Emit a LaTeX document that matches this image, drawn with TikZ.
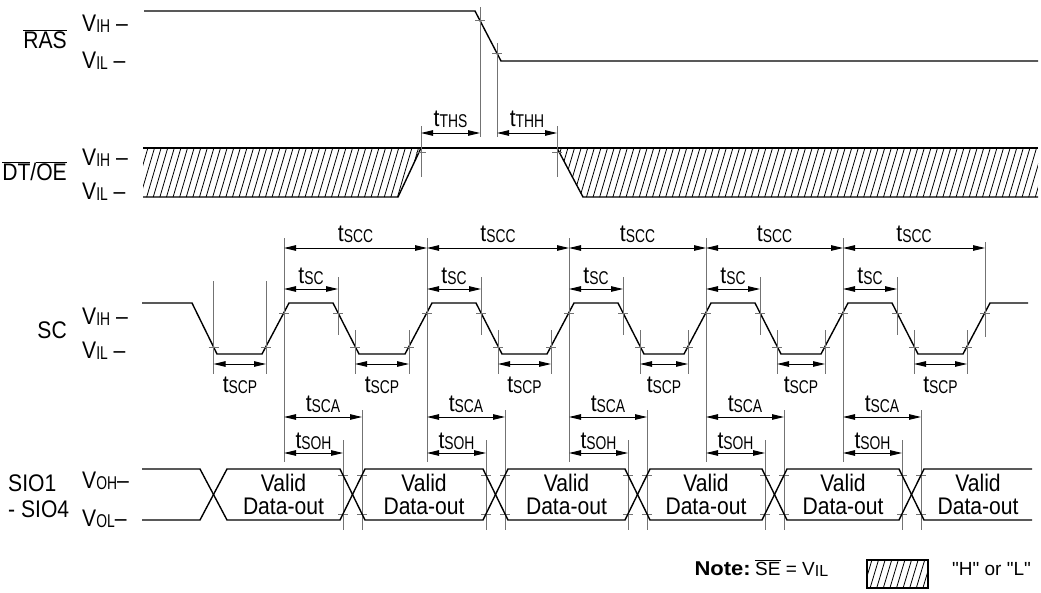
\documentclass[tikz,border=0pt]{standalone}
\usepackage{fontspec}
\setmainfont{Liberation Sans}
\newfontfamily\lab{Liberation Sans}[FakeStretch=0.88]
\newfontfamily\subfam{Liberation Sans}[FakeStretch=0.75]
\newfontfamily\notefont{Liberation Sans}[FakeStretch=1.1]
\newfontfamily\qfont{Liberation Sans}[Ligatures=TeXOff]
\usetikzlibrary{arrows.meta}
\newcommand\sbs[1]{\raisebox{-1.3pt}{\subfam\fontsize{18.5}{18.5}\selectfont #1}}
\newcommand\nsbs[1]{\raisebox{-1.5pt}{\fontsize{16}{16}\selectfont #1}}
\newcommand\ovl[1]{$\overline{\hbox{#1}}$}
\newcommand\tsub[1]{t\sbs{#1}}
\begin{document}
\begin{tikzpicture}[x=1pt,y=-1pt,
  wave/.style={line width=1.4pt, black, line join=miter},
  guide/.style={line width=1pt, black!55},
  dim/.style={line width=1pt, black, {Triangle[length=12pt,width=5.5pt]}-{Triangle[length=12pt,width=5.5pt]}},
  lbl/.style={font=\lab\fontsize{24}{26}\selectfont, inner sep=0pt, anchor=base},
  tick/.style={line width=1pt, black!55},
  hatchline/.style={line width=0.8pt, black}]
\useasboundingbox (0,0) rectangle (1041,592);
\newcommand\tk[2]{\draw[tick] ({#1-5},#2)--({#1+5},#2);}

% ---------------- RAS ----------------
\node[lbl, anchor=base east] (ras) at (67,48) {\ovl{RAS}};
\node[lbl, anchor=base west] (rasvih) at (82,31) {V\sbs{IH} –};
\node[lbl, anchor=base west] (rasvil) at (82,68) {V\sbs{IL} –};
\draw[wave] (144,11) -- (475,11) -- (501,61) -- (1038,61);
\draw[guide] (480,7) -- (480,137);
\draw[guide] (497,43) -- (497,137);
\tk{480}{20} \tk{497}{53}

% ---------------- DT/OE ----------------
\node[lbl, anchor=base east] (dtoe) at (67,180) {\ovl{DT}/\ovl{OE}};
\node[lbl, anchor=base west] (dtvih) at (82,165) {V\sbs{IH} –};
\node[lbl, anchor=base west] (dtvil) at (82,199) {V\sbs{IL} –};
\begin{scope}
  \clip (143,148) -- (421,148) -- (398,197) -- (143,197) -- cycle;
  \foreach \i in {120,126.6,...,440} \draw[hatchline] (\i,198) -- ({\i+15},147);
\end{scope}
\begin{scope}
  \clip (557,148) -- (1038,148) -- (1038,197) -- (583,197) -- cycle;
  \foreach \i in {540,546.6,...,1045} \draw[hatchline] (\i,198) -- ({\i+15},147);
\end{scope}
\draw[wave] (143,148) -- (1038,148);
\draw[wave] (143,197) -- (398,197) -- (421,148);
\draw[wave] (557,148) -- (583,197) -- (1038,197);
\draw[guide] (421,126) -- (421,177);
\draw[guide] (557,126) -- (557,177);
\tk{421}{152} \tk{557}{152}
\draw[dim] (421,133) -- (480,133);
\draw[dim] (497,133) -- (557,133);
\node[lbl] (tths) at (450.5,126) {\tsub{THS}};
\node[lbl] (tthh) at (527,126) {\tsub{THH}};

% ---------------- SC ----------------
\node[lbl, anchor=base east] (sc) at (67,338) {SC};
\node[lbl, anchor=base west] (scvih) at (82,324) {V\sbs{IH} –};
\node[lbl, anchor=base west] (scvil) at (82,358.5) {V\sbs{IL} –};
\draw[wave] (142,303)--(192,303)--(217,354)--(262,354)--(289,303)--(333,303)--(359,354)--(405,354)--(432,303)--(476,303)--(502,354)--(547,354)--(574,303)--(618,303)--(644,354)--(684,354)--(711,303)--(755,303)--(781,354)--(821,354)--(848,303)--(892,303)--(918,354)--(963,354)--(990,303)--(1028,303);
% first tSCP
\draw[guide] (213.5,281) -- (213.5,374);
\draw[guide] (266,281) -- (266,374);
\tk{213.5}{347} \tk{266}{347}
\draw[dim] (213.5,364) -- (266,364);
\node[lbl] (tscp0) at (240,392) {\tsub{SCP}};
% last rising edge
\draw[guide] (985,242) -- (985,337);
\tk{985}{313}
% periods
\foreach \a/\b [count=\k] in {284/427,427/569,569/706,706/843,843/985} {
  \draw[guide] (\a,238) -- (\a,462);
  \draw[guide] ({\a+54},277) -- ({\a+54},335);
  \draw[guide] ({\a+71},330) -- ({\a+71},374);
  \draw[guide] ({\b-18},330) -- ({\b-18},374);
  \tk{\a}{313}
  \tk{\a+54}{313}
  \tk{\a+71}{347}
  \tk{\b-18}{347}
  \draw[dim] (\a,248) -- (\b,248);
  \node[lbl] (tscc\k) at ({(\a+\b)/2},241.5) {\tsub{SCC}};
  \draw[dim] (\a,289) -- ({\a+54},289);
  \node[lbl] (tsc\k) at ({\a+27},283) {\tsub{SC}};
  \draw[dim] ({\a+71},364) -- ({\b-18},364);
  \node[lbl] (tscp\k) at ({(\a+71+\b-18)/2},392) {\tsub{SCP}};
  % SIO timing
  \draw[guide] ({\a+78},410) -- ({\a+78},530);
  \draw[guide] ({\a+59},440) -- ({\a+59},530);
  \draw[dim] (\a,417) -- ({\a+78},417);
  \node[lbl] (tsca\k) at ({\a+39},411.5) {\tsub{SCA}};
  \draw[dim] (\a,453) -- ({\a+59},453);
  \node[lbl] (tsoh\k) at ({\a+29.5},448) {\tsub{SOH}};
  \tk{\a+59}{475} \tk{\a+59}{514}
  \tk{\a+78}{475} \tk{\a+78}{514}
}

% ---------------- SIO ----------------
\node[lbl, anchor=base west] (sio1) at (8,491.5) {SIO1};
\node[lbl, anchor=base west] (sio4) at (8,517) {- SIO4};
\node[lbl, anchor=base west] (voh) at (82,488.5) {V\sbs{OH}–};
\node[lbl, anchor=base west] (vol) at (82,526) {V\sbs{OL}–};
\draw[wave] (142,469)--(200,469)--(227,520)--(340,520)--(365,469)--(483,469)--(508,520)--(625,520)--(650,469)--(762,469)--(787,520)--(899,520)--(924,469)--(1032,469);
\draw[wave] (142,520)--(200,520)--(227,469)--(340,469)--(365,520)--(483,520)--(508,469)--(625,469)--(650,520)--(762,520)--(787,469)--(899,469)--(924,520)--(1032,520);
\foreach \c [count=\k] in {283.5,424,566.5,706,843,978} {
  \node[lbl] (valid\k) at (\c,491.5) {Valid};
  \node[lbl] (data\k) at (\c,514) {Data-out};
}

% ---------------- Note ----------------
\node[inner sep=0pt, anchor=base east, font=\notefont\bfseries\fontsize{20}{22}\selectfont] (note) at (751,575) {Note:};
\node[inner sep=0pt, anchor=base west, font=\fontsize{19}{21}\selectfont] (se) at (755,575) {\ovl{SE} = V\nsbs{IL}};
\begin{scope}
  \clip (867,560) rectangle (928,588);
  \foreach \i in {850,856.6,...,935} \draw[hatchline] (\i,589) -- ({\i+9},559);
\end{scope}
\draw[line width=1.1pt] (867,560) rectangle (928,588);
\node[inner sep=0pt, anchor=base west, font=\qfont\fontsize{19}{21}\selectfont] (hl) at (952,575) {"H" or "L"};
\end{tikzpicture}
\end{document}
